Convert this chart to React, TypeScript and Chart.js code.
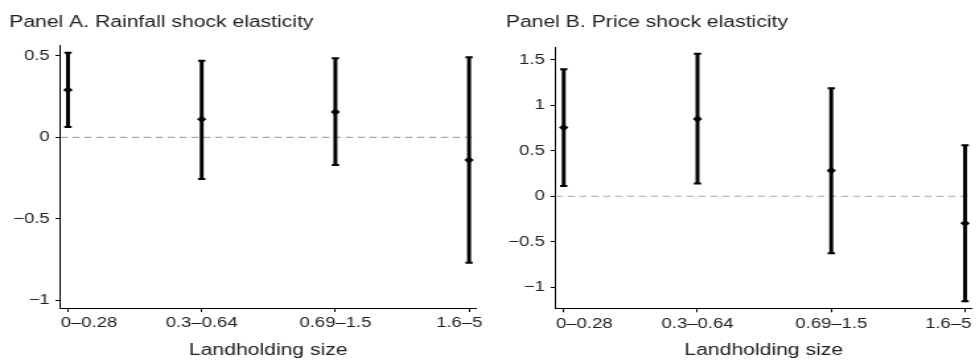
import { useEffect, useRef } from "react";
import { Chart, registerables } from "chart.js";

Chart.register(...registerables);

// ---------- data ----------
const categories = ["0–0.28", "0.3–0.64", "0.69–1.5", "1.6–5"];

const estimateA = [0.291, 0.111, 0.156, -0.14];
const lowerA = [0.063, -0.256, -0.17, -0.771];
const upperA = [0.52, 0.471, 0.486, 0.492];

const estimateB = [0.754, 0.849, 0.282, -0.297];
const lowerB = [0.113, 0.139, -0.626, -1.153];
const upperB = [1.395, 1.566, 1.186, 0.56];

const yTicksA = [-1, -0.5, 0, 0.5];
const yTicksB = [-1, -0.5, 0, 0.5, 1, 1.5];

const titleA = "Panel A. Rainfall shock elasticity";
const titleB = "Panel B. Price shock elasticity";
const xAxisTitle = "Landholding size";

// ---------- layout (not data) ----------
type PanelLayout = {
  cssLeft: number;
  cssWidth: number;
  innerWidth: number;
  padLeft: number;
  padRight: number;
  yAxisWidth: number;
  titlePadTop: number;
  titlePadBottom: number;
  xAxisHeight: number;
  xMin: number;
  xMax: number;
  yMin: number;
  yMax: number;
};

const HEIGHT = 362;

const layoutA: PanelLayout = {
  cssLeft: 0,
  cssWidth: 490,
  innerWidth: 371,
  padLeft: 7,
  padRight: 10.6,
  yAxisWidth: 38.8,
  titlePadTop: 13,
  titlePadBottom: 13.5,
  xAxisHeight: 54,
  xMin: 0.944,
  xMax: 4.052,
  yMin: -1.049,
  yMax: 0.563,
};

const layoutB: PanelLayout = {
  cssLeft: 490,
  cssWidth: 489,
  innerWidth: 370,
  padLeft: 12,
  padRight: 5.5,
  yAxisWidth: 37.7,
  titlePadTop: 13,
  titlePadBottom: 15.5,
  xAxisHeight: 53.7,
  xMin: 0.94,
  xMax: 4.05,
  yMin: -1.231,
  yMax: 1.632,
};

const FONT = "'Liberation Sans', Arial, Helvetica, sans-serif";
const TEXT = "#222";

function fmtTick(v: number): string {
  if (v < 0) return "\u2212" + String(Math.abs(v));
  return String(v);
}

// Keep the first/last x tick labels inside the plot edges (like the reference)
const edgeLabels = {
  id: "edgeLabels",
  beforeDraw(chart: any) {
    const scale = chart.scales.x;
    if (!scale || !scale.getLabelItems) return;
    const items = scale.getLabelItems();
    if (!items || !items.length) return;
    const first = items[0];
    const last = items[items.length - 1];
    first.options.textAlign = "left";
    first.options.translation[0] = chart.chartArea.left + 0.2;
    last.options.textAlign = "right";
    last.options.translation[0] = chart.width - 5.8;
  },
};

function Panel(props: {
  layout: PanelLayout;
  title: string;
  est: number[];
  lo: number[];
  hi: number[];
  yTicks: number[];
}) {
  const { layout, title, est, lo, hi, yTicks } = props;
  const ref = useRef<HTMLCanvasElement | null>(null);

  useEffect(() => {
    if (!ref.current) return;
    Chart.defaults.font.family = FONT;
    const chart = new Chart(ref.current, {
      type: "scatter",
      data: {
        datasets: [
          {
            type: "line",
            data: [
              { x: layout.xMin, y: 0 },
              { x: layout.xMax, y: 0 },
            ],
            borderColor: "#a8a8a8",
            borderWidth: 1.2,
            borderDash: [5.5, 3.5],
            pointRadius: 0,
            order: 3,
          } as any,
          {
            type: "bar",
            data: lo.map((l, i) => ({ x: i + 1, y: [l, hi[i]] })),
            backgroundColor: "#000",
            borderWidth: 0,
            barThickness: 2.3,
            order: 2,
          } as any,
          {
            type: "scatter",
            data: [
              ...lo.map((v, i) => ({ x: i + 1, y: v })),
              ...hi.map((v, i) => ({ x: i + 1, y: v })),
            ],
            pointStyle: "line",
            pointRadius: 2.75,
            pointHoverRadius: 2.75,
            pointBorderWidth: 2,
            borderWidth: 2,
            pointBorderColor: "#000",
            borderColor: "#000",
            order: 1,
          } as any,
          {
            type: "scatter",
            data: est.map((v, i) => ({ x: i + 1, y: v })),
            pointStyle: "rectRot",
            pointRadius: 3.6,
            pointHoverRadius: 3.6,
            pointBackgroundColor: "#000",
            backgroundColor: "#000",
            pointBorderWidth: 0,
            borderWidth: 0,
            order: 0,
          } as any,
        ],
      },
      options: {
        animation: false,
        responsive: false,
        maintainAspectRatio: false,
        devicePixelRatio: 1,
        events: [],
        layout: {
          padding: { left: layout.padLeft, right: layout.padRight, top: 0, bottom: 0 },
        },
        plugins: {
          legend: { display: false },
          tooltip: { enabled: false },
          title: {
            display: true,
            text: title,
            align: "start",
            color: TEXT,
            font: { size: 16, weight: "normal", family: FONT },
            padding: { top: layout.titlePadTop, bottom: layout.titlePadBottom },
          },
        },
        scales: {
          x: {
            type: "linear",
            min: layout.xMin,
            max: layout.xMax,
            offset: false,
            afterBuildTicks: (s: any) => {
              s.ticks = categories.map((_, i) => ({ value: i + 1 }));
            },
            afterFit: (s: any) => {
              s.height = layout.xAxisHeight;
              s.paddingLeft = 0;
              s.paddingRight = 0;
            },
            ticks: {
              callback: (v: any) => categories[Math.round(Number(v)) - 1] ?? "",
              font: { size: 14, family: FONT },
              color: TEXT,
              padding: 3.1,
              maxRotation: 0,
              minRotation: 0,
              autoSkip: false,
            },
            grid: {
              offset: false,
              drawOnChartArea: false,
              drawTicks: true,
              tickLength: 4,
              tickColor: "#000",
              tickWidth: 1,
            },
            border: { display: true, color: "#000", width: 1 },
            title: {
              display: true,
              text: xAxisTitle,
              color: TEXT,
              font: { size: 16, family: FONT },
              padding: { top: 0, bottom: 1.4 },
            },
          } as any,
          y: {
            type: "linear",
            min: layout.yMin,
            max: layout.yMax,
            beginAtZero: false,
            afterBuildTicks: (s: any) => {
              s.ticks = yTicks.map((v) => ({ value: v }));
            },
            afterFit: (s: any) => {
              s.width = layout.yAxisWidth;
              s.paddingTop = 0;
              s.paddingBottom = 0;
            },
            ticks: {
              callback: (v: any) => fmtTick(Number(v)),
              font: { size: 14, family: FONT },
              color: TEXT,
              padding: 4.4,
            },
            grid: {
              offset: false,
              drawOnChartArea: false,
              drawTicks: true,
              tickLength: 3.8,
              tickColor: "#000",
              tickWidth: 1,
            },
            border: { display: true, color: "#000", width: 1 },
          } as any,
        },
      },
      plugins: [edgeLabels as any],
    });
    return () => chart.destroy();
  }, [layout, title, est, lo, hi, yTicks]);

  const scale = layout.cssWidth / layout.innerWidth;
  return (
    <div
      style={{
        position: "absolute",
        left: layout.cssLeft,
        top: 0,
        width: layout.innerWidth,
        height: HEIGHT,
        transform: `scaleX(${scale})`,
        transformOrigin: "0 0",
      }}
    >
      <canvas
        ref={ref}
        width={layout.innerWidth}
        height={HEIGHT}
        style={{ width: layout.innerWidth, height: HEIGHT, display: "block" }}
      />
    </div>
  );
}

export default function App() {
  return (
    <div
      style={{
        position: "fixed",
        left: 0,
        top: 0,
        width: 979,
        height: HEIGHT,
        background: "#fff",
        overflow: "hidden",
      }}
    >
      <Panel layout={layoutA} title={titleA} est={estimateA} lo={lowerA} hi={upperA} yTicks={yTicksA} />
      <Panel layout={layoutB} title={titleB} est={estimateB} lo={lowerB} hi={upperB} yTicks={yTicksB} />
    </div>
  );
}
